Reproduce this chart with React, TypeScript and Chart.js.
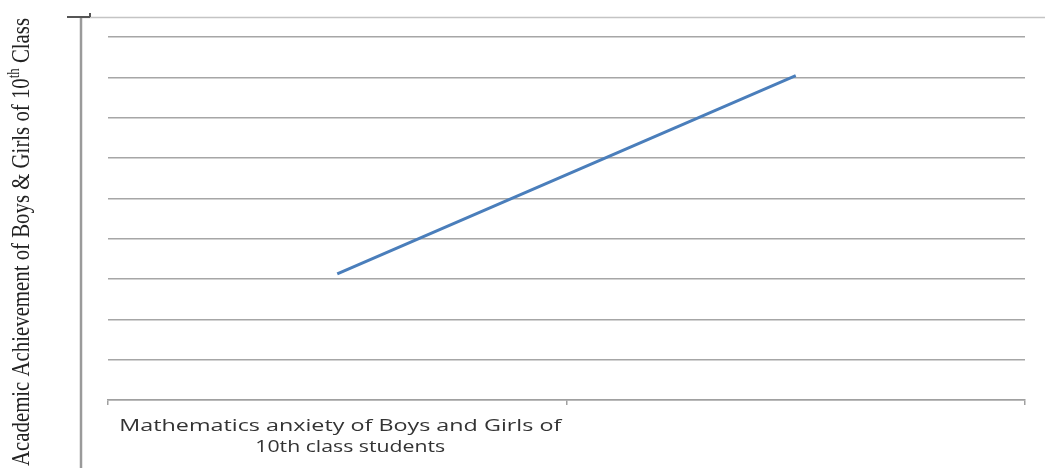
import React, { useEffect, useRef } from "react";
import { Chart, registerables } from "chart.js";

Chart.register(...registerables);

const categoryLines: string[][] = [
  ["Mathematics anxiety of Boys and Girls of", "10th class students"],
  [""],
];
const categories = categoryLines.map((l) => l.join(" "));
const achievementValues = [3.13, 8.04];
const yTickValues = [0, 1, 2, 3, 4, 5, 6, 7, 8, 9];
const yTitleMain = "Academic Achievement of Boys & Girls of 10";
const yTitleSup = "th";
const yTitleEnd = " Class";

const decorPlugin = {
  id: "decor",
  beforeDraw(chart: any) {
    const ctx = chart.ctx as CanvasRenderingContext2D;
    ctx.save();
    ctx.fillStyle = "#ffffff";
    ctx.fillRect(0, 0, chart.width, chart.height);
    ctx.strokeStyle = "#c4c4c4";
    ctx.lineWidth = 1.5;
    ctx.beginPath();
    ctx.moveTo(81, 17.5);
    ctx.lineTo(chart.width, 17.5);
    ctx.stroke();
    ctx.strokeStyle = "#9a9a9a";
    ctx.lineWidth = 2.5;
    ctx.beginPath();
    ctx.moveTo(81, 16);
    ctx.lineTo(81, chart.height);
    ctx.stroke();
    ctx.strokeStyle = "#555555";
    ctx.lineWidth = 2;
    ctx.beginPath();
    ctx.moveTo(67, 17);
    ctx.lineTo(90, 17);
    ctx.moveTo(90, 13);
    ctx.lineTo(90, 17);
    ctx.stroke();
    ctx.restore();
  },
  afterDraw(chart: any) {
    const ctx = chart.ctx as CanvasRenderingContext2D;
    const xs = chart.scales.x;
    ctx.save();
    ctx.fillStyle = "#333333";
    ctx.font = '17px "Open Sans"';
    ctx.textAlign = "center";
    ctx.textBaseline = "alphabetic";
    const targetWidths = [442, 190];
    categoryLines.forEach((lines, i) => {
      const x = xs.getPixelForValue(i);
      lines.forEach((line, j) => {
        if (!line) return;
        const w = ctx.measureText(line).width;
        const sx = targetWidths[j] / w;
        ctx.save();
        ctx.translate(x + 3 + j * 10, 431 + j * 21);
        ctx.scale(sx, 1);
        ctx.fillText(line, 0, 0);
        ctx.restore();
      });
    });
    ctx.font = '26px "Liberation Serif"';
    const mainW = ctx.measureText(yTitleMain).width;
    ctx.font = '16px "Liberation Serif"';
    const supW = ctx.measureText(yTitleSup).width;
    ctx.font = '26px "Liberation Serif"';
    const endW = ctx.measureText(yTitleEnd).width;
    const total = mainW + supW + endW;
    const s = 448 / total;
    ctx.translate(29, 466);
    ctx.rotate(-Math.PI / 2);
    ctx.scale(s, 1);
    ctx.textAlign = "left";
    ctx.fillStyle = "#222222";
    ctx.fillText(yTitleMain, 0, 0);
    ctx.font = '16px "Liberation Serif"';
    ctx.fillText(yTitleSup, mainW, -10);
    ctx.font = '26px "Liberation Serif"';
    ctx.fillText(yTitleEnd, mainW + supW, 0);
    ctx.restore();
  },
};

export default function App() {
  const ref = useRef<HTMLCanvasElement>(null);
  useEffect(() => {
    document.body.style.margin = "0";
    if (!ref.current) return;
    const chart = new Chart(ref.current, {
      type: "line",
      data: {
        labels: categories,
        datasets: [
          {
            data: achievementValues,
            borderColor: "#4a7ebb",
            borderWidth: 3,
            pointRadius: 0,
            fill: false,
            tension: 0,
          },
        ],
      },
      options: {
        responsive: false,
        animation: false,
        layout: { padding: { left: 108, right: 20, top: 37, bottom: 63 } },
        plugins: { legend: { display: false }, tooltip: { enabled: false } },
        scales: {
          x: {
            type: "category",
            offset: true,
            ticks: { display: false },
            grid: {
              offset: true,
              drawOnChartArea: false,
              drawTicks: true,
              tickLength: 5,
              color: "#a0a0a0",
              lineWidth: 1.5,
            },
            border: { display: true, color: "#a0a0a0", width: 1.5 },
          },
          y: {
            min: 0,
            max: 9,
            afterBuildTicks: (axis: any) => {
              axis.ticks = yTickValues.map((v) => ({ value: v }));
            },
            ticks: { display: false },
            grid: { color: "#a6a6a6", lineWidth: 1.5, drawTicks: false },
            border: { display: false },
          },
        },
      },
      plugins: [decorPlugin],
    });
    return () => chart.destroy();
  }, []);
  return (
    <div style={{ width: 1045, height: 468 }}>
      <canvas ref={ref} width={1045} height={468} style={{ display: "block" }} />
    </div>
  );
}
